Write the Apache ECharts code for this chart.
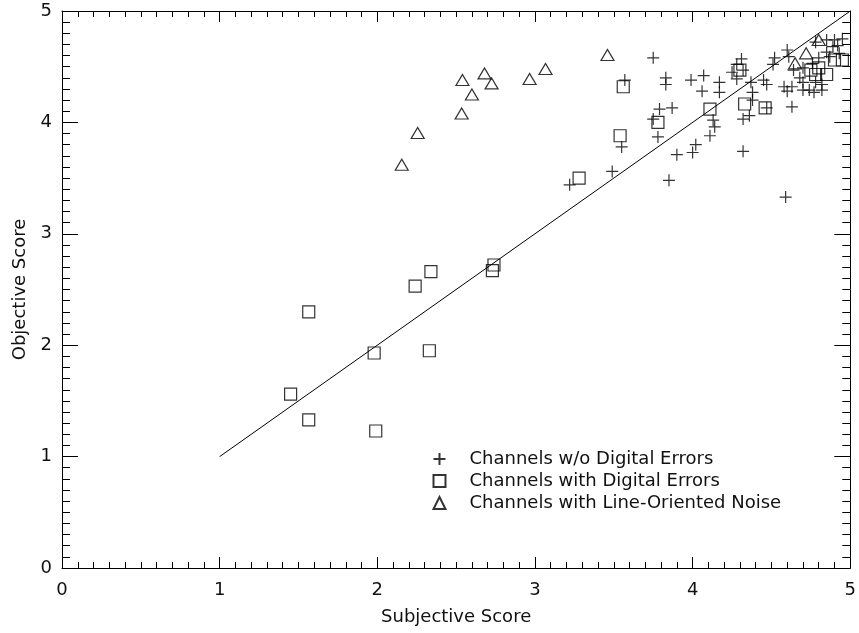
<!DOCTYPE html>
<html><head><meta charset="utf-8">
<script src="https://cdn.jsdelivr.net/npm/echarts@6/dist/echarts.min.js"></script>
<style>html,body{margin:0;padding:0;background:#fff}#c{width:859px;height:633px}</style>
</head><body><div id="c"></div>
<script>
// Channels w/o Digital Errors
const plusX = [3.22,3.49,3.55,3.57,3.75,3.75,3.78,3.79,3.83,3.83,3.85,3.87,3.90,3.99,4.00,4.02,4.07,4.06,4.11,4.13,4.14,4.17,4.17,4.25,4.28,4.31,4.32,4.28,4.37,4.38,4.38,4.32,4.36,4.32,4.47,4.45,4.47,4.52,4.51,4.60,4.61,4.64,4.63,4.58,4.60,4.63,4.59,4.70,4.68,4.70,4.70,4.74,4.77,4.78,4.82,4.82,4.76,4.80,4.78,4.85,4.90,4.89,4.85,4.92,4.87,4.95,4.93];
const plusY = [3.44,3.56,3.78,4.38,4.58,4.03,3.87,4.12,4.40,4.34,3.48,4.13,3.71,4.38,3.73,3.80,4.42,4.28,3.88,4.02,3.96,4.36,4.27,4.45,4.52,4.57,4.47,4.39,4.36,4.27,4.20,4.03,4.06,3.74,4.13,4.38,4.34,4.58,4.52,4.65,4.59,4.47,4.32,4.32,4.28,4.14,3.33,4.49,4.40,4.36,4.29,4.29,4.27,4.36,4.34,4.29,4.53,4.58,4.72,4.74,4.74,4.68,4.63,4.69,4.59,4.75,4.62];
// Channels with Digital Errors
const sqX = [1.45,1.565,1.565,1.98,1.99,2.24,2.33,2.34,2.73,2.74,3.28,3.54,3.56,3.78,4.11,4.33,4.46,4.30,4.75,4.80,4.90,4.95,4.85,4.78];
const sqY = [1.56,1.33,2.30,1.93,1.23,2.53,1.95,2.66,2.67,2.72,3.50,3.88,4.32,4.00,4.12,4.165,4.13,4.47,4.47,4.49,4.56,4.56,4.43,4.43];
// Channels with Line-Oriented Noise
const triX = [2.155,2.256,2.535,2.54,2.60,2.68,2.725,2.966,3.067,3.46,4.65,4.72,4.80];
const triY = [3.62,3.905,4.08,4.38,4.25,4.44,4.35,4.39,4.48,4.605,4.53,4.62,4.74];
// Reference line y = x
const refX = [1,5];
const refY = [1,5];
const seriesNames = ['Channels w/o Digital Errors','Channels with Digital Errors','Channels with Line-Oriented Noise'];
const xTitle = 'Subjective Score';
const yTitle = 'Objective Score';

const zip = (a,b) => a.map((v,i)=>[v,b[i]]);
const FONT = "'DejaVu Sans'";
const txt = {color:'#111', fontFamily:FONT, fontSize:18};

function axis(base, extra){ return Object.assign({
  type:'value', min:0, max:5, interval:1,
  axisLine:{show:true, onZero:false, lineStyle:{color:'#000', width:1}},
  splitLine:{show:false},
  minorTick:{show:true, splitNumber:10},
  minorSplitLine:{show:false}
}, base, extra); }

const chart = echarts.init(document.getElementById('c'), null, {renderer:'canvas'});
chart.setOption({
  backgroundColor:'#fff',
  animation:false,
  grid:{left:62, right:8, top:11, bottom:65},
  xAxis:[
    axis({position:'bottom', name:xTitle, nameLocation:'middle', nameGap:40, nameTextStyle:txt,
      axisLabel:Object.assign({margin:13}, txt),
      axisTick:{inside:true, length:11, lineStyle:{color:'#000'}},
      minorTick:{show:true, splitNumber:10, length:6, lineStyle:{color:'#000'}}}),
    axis({position:'top', axisLabel:{show:false},
      axisTick:{inside:true, length:11, lineStyle:{color:'#000'}},
      minorTick:{show:true, splitNumber:10, length:6, lineStyle:{color:'#000'}}})
  ],
  yAxis:[
    axis({position:'left', name:yTitle, nameLocation:'middle', nameGap:30, nameTextStyle:txt,
      axisLabel:Object.assign({margin:10}, txt),
      axisTick:{inside:true, length:16, lineStyle:{color:'#000'}},
      minorTick:{show:true, splitNumber:10, length:8, lineStyle:{color:'#000'}}}),
    axis({position:'right', axisLabel:{show:false},
      axisTick:{inside:true, length:16, lineStyle:{color:'#000'}},
      minorTick:{show:true, splitNumber:10, length:8, lineStyle:{color:'#000'}}})
  ],
  legend:{
    orient:'vertical', left:431, top:450, padding:0, itemGap:4, itemWidth:12, itemHeight:12,
    data:seriesNames, selectedMode:false,
    textStyle:Object.assign({padding:[0,0,0,19], lineHeight:18}, txt)
  },
  series:[
    {name:seriesNames[0], type:'scatter', symbol:'path://M0,5L10,5M5,0L5,10', symbolSize:12,
      itemStyle:{color:'none', borderColor:'#000', borderWidth:1.2}, data:zip(plusX,plusY)},
    {name:seriesNames[1], type:'scatter', symbol:'rect', symbolSize:12,
      itemStyle:{color:'none', borderColor:'#000', borderWidth:1.2}, data:zip(sqX,sqY)},
    {name:seriesNames[2], type:'scatter', symbol:'triangle', symbolSize:[13,11],
      itemStyle:{color:'none', borderColor:'#000', borderWidth:1.2}, data:zip(triX,triY)},
    {name:'ref', type:'line', showSymbol:false, silent:true,
      lineStyle:{color:'#000', width:1}, data:zip(refX,refY)}
  ]
});
</script></body></html>
